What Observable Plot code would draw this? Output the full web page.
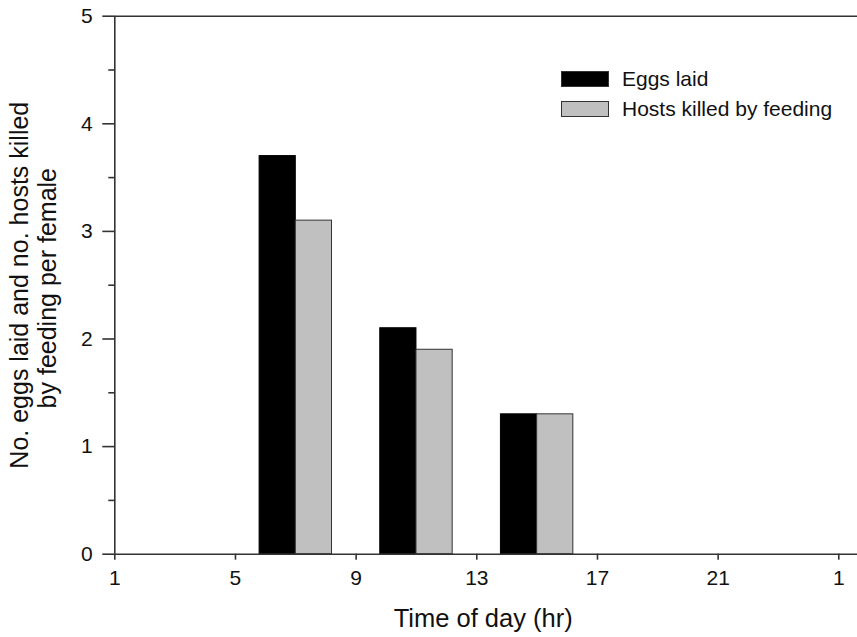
<!DOCTYPE html>
<html><head><meta charset="utf-8">
<script src="https://cdn.jsdelivr.net/npm/d3@7"></script>
<script src="https://cdn.jsdelivr.net/npm/@observablehq/plot@0.6"></script>
<style>
body{margin:0;background:#fff;font-family:"Liberation Sans",Arial,sans-serif;}
#wrap{position:relative;width:857px;height:637px;}
.legend{position:absolute;left:561px;top:64px;font-size:21px;color:#111;}
.row{display:flex;align-items:center;height:30px;white-space:nowrap;}
.sw{width:48px;height:16px;box-sizing:border-box;border:1px solid #333;margin-right:13px;}
</style></head><body><div id="wrap"></div>
<script>
const hours = [7, 11, 15];
const eggsLaid = [3.7, 2.1, 1.3];
const hostsKilled = [3.1, 1.9, 1.3];
const xTicks = [1, 5, 9, 13, 17, 21, 25];
const xTickLabels = ["1", "5", "9", "13", "17", "21", "1"];
const yTicks = [0, 1, 2, 3, 4, 5];
const yMinorTicks = [0.5, 1.5, 2.5, 3.5, 4.5];
const seriesNames = ["Eggs laid", "Hosts killed by feeding"];
const seriesColors = ["#000000", "#c0c0c0"];
const yLabelLines = ["No. eggs laid and no. hosts killed", "by feeding per female"];
const xLabel = "Time of day (hr)";

const barW = 1.2;
const axisColor = "#333";
const eggs = hours.map((h, i) => ({x1: h - barW, x2: h, y: eggsLaid[i]}));
const hosts = hours.map((h, i) => ({x1: h, x2: h + barW, y: hostsKilled[i]}));

const plot = Plot.plot({
  width: 857, height: 637,
  marginLeft: 114.3, marginRight: 0, marginTop: 15.7, marginBottom: 83.3,
  style: {fontFamily: "'Liberation Sans', Arial, sans-serif", fontSize: "21px", color: "#111", background: "#fff"},
  x: {domain: [1, 25.62]},
  y: {domain: [0, 5]},
  marks: [
    Plot.rect(eggs, {x1: "x1", x2: "x2", y1: 0, y2: "y", fill: seriesColors[0], stroke: "#000", strokeWidth: 1}),
    Plot.rect(hosts, {x1: "x1", x2: "x2", y1: 0, y2: "y", fill: seriesColors[1], stroke: axisColor, strokeWidth: 1}),
    Plot.ruleY([0, 5], {stroke: axisColor, strokeWidth: 1.6}),
    Plot.ruleX([1], {stroke: axisColor, strokeWidth: 1.6}),
    Plot.axisY({ticks: yTicks, tickSize: 12, tickPadding: 10, label: null, fontSize: 21, stroke: axisColor, strokeWidth: 1.6,
      tickFormat: d => String(d)}),
    Plot.axisY({ticks: yMinorTicks, tickSize: 6, tickFormat: () => "", label: null, stroke: axisColor, strokeWidth: 1.6}),
    Plot.axisX({ticks: xTicks, tickSize: 6, tickPadding: 10, label: null, fontSize: 21, stroke: axisColor, strokeWidth: 1.6,
      tickFormat: d => xTickLabels[xTicks.indexOf(d)]}),
    Plot.text([yLabelLines[0]], {frameAnchor: "left", textAnchor: "middle", rotate: -90, lineAnchor: "bottom", dx: -87.3, fontSize: 25, fill: "#111"}),
    Plot.text([yLabelLines[1]], {frameAnchor: "left", textAnchor: "middle", rotate: -90, lineAnchor: "bottom", dx: -59.3, dy: 3, fontSize: 25, fill: "#111"}),
    Plot.text([xLabel], {frameAnchor: "bottom", textAnchor: "middle", lineAnchor: "bottom", dy: 72.3, dx: -3, fontSize: 25.5, fill: "#111"})
  ]
});
const wrap = document.getElementById("wrap");
wrap.appendChild(plot);
const legend = document.createElement("div");
legend.className = "legend";
seriesNames.forEach((name, i) => {
  const row = document.createElement("div");
  row.className = "row";
  const sw = document.createElement("div");
  sw.className = "sw";
  sw.style.background = seriesColors[i];
  const t = document.createElement("span");
  t.textContent = name;
  row.appendChild(sw); row.appendChild(t);
  legend.appendChild(row);
});
wrap.appendChild(legend);
</script></body></html>
